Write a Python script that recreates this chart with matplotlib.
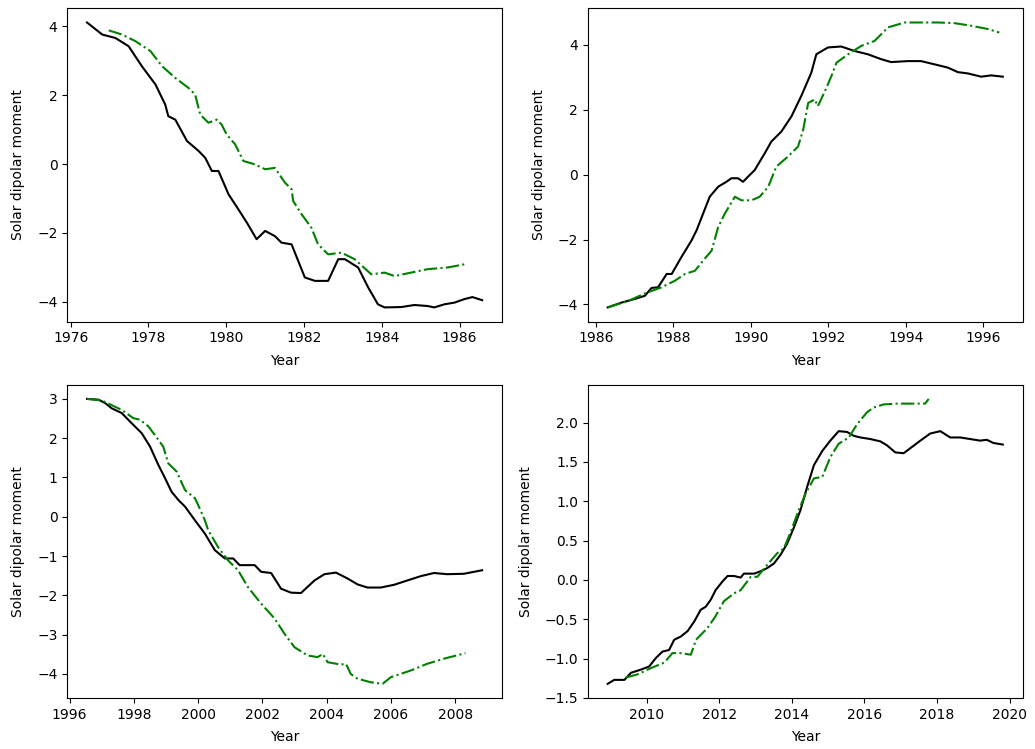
import numpy as np
import matplotlib
matplotlib.use("Agg")
import matplotlib.pyplot as plt

# cycle 21 (1976-1986)
yr_a_obs = [1976.42, 1976.81, 1977.15, 1977.49, 1977.83, 1978.18, 1978.43, 1978.51, 1978.69, 1978.99,
            1979.29, 1979.46, 1979.63, 1979.80, 1980.06, 1980.31, 1980.53, 1980.78, 1981.00, 1981.25,
            1981.42, 1981.68, 1982.02, 1982.28, 1982.62, 1982.88, 1983.05, 1983.39, 1983.65, 1983.90,
            1984.07, 1984.50, 1984.84, 1985.18, 1985.35, 1985.61, 1985.87, 1986.12, 1986.33, 1986.58]
dm_a_obs = [4.11, 3.76, 3.66, 3.42, 2.84, 2.31, 1.73, 1.39, 1.29, 0.67,
            0.38, 0.18, -0.20, -0.20, -0.88, -1.31, -1.70, -2.18, -1.94, -2.09,
            -2.28, -2.33, -3.29, -3.39, -3.39, -2.76, -2.76, -3.00, -3.58, -4.07,
            -4.16, -4.15, -4.09, -4.12, -4.16, -4.07, -4.02, -3.92, -3.86, -3.95]
yr_a_mod = [1976.98, 1977.32, 1977.66, 1978.05, 1978.35, 1978.69, 1979.03, 1979.20, 1979.33, 1979.54,
            1979.76, 1979.88, 1980.01, 1980.23, 1980.44, 1980.74, 1981.00, 1981.25, 1981.51, 1981.68,
            1981.72, 1981.94, 1982.19, 1982.36, 1982.62, 1982.96, 1983.30, 1983.73, 1984.07, 1984.33,
            1984.75, 1985.18, 1985.70, 1986.12]
dm_a_mod = [3.88, 3.76, 3.57, 3.28, 2.84, 2.50, 2.21, 2.02, 1.44, 1.20,
            1.29, 1.15, 0.86, 0.57, 0.09, -0.01, -0.15, -0.11, -0.54, -0.73,
            -1.07, -1.46, -1.85, -2.33, -2.62, -2.57, -2.76, -3.20, -3.15, -3.25,
            -3.15, -3.05, -3.00, -2.91]

# cycle 22 (1986-1996)
yr_b_obs = [1986.31, 1986.67, 1987.01, 1987.27, 1987.44, 1987.61, 1987.83, 1987.96, 1988.21, 1988.47,
            1988.60, 1988.77, 1988.94, 1989.16, 1989.37, 1989.50, 1989.67, 1989.80, 1989.93, 1990.10,
            1990.36, 1990.53, 1990.79, 1991.05, 1991.30, 1991.56, 1991.69, 1991.99, 1992.33, 1992.68,
            1993.02, 1993.36, 1993.62, 1994.05, 1994.39, 1994.74, 1995.08, 1995.34, 1995.60, 1995.94,
            1996.20, 1996.50]
dm_b_obs = [-4.09, -3.94, -3.83, -3.73, -3.49, -3.47, -3.06, -3.06, -2.54, -2.03,
            -1.72, -1.20, -0.68, -0.37, -0.22, -0.11, -0.11, -0.22, -0.06, 0.14,
            0.66, 1.02, 1.33, 1.80, 2.42, 3.14, 3.71, 3.92, 3.95, 3.81,
            3.71, 3.56, 3.47, 3.50, 3.50, 3.40, 3.30, 3.16, 3.12, 3.02,
            3.06, 3.02]
yr_b_mod = [1986.31, 1986.84, 1987.27, 1987.70, 1988.04, 1988.30, 1988.56, 1988.77, 1988.99, 1989.16,
            1989.33, 1989.59, 1989.76, 1990.02, 1990.23, 1990.45, 1990.66, 1990.96, 1991.22, 1991.35,
            1991.48, 1991.65, 1991.73, 1991.91, 1992.08, 1992.21, 1992.51, 1992.85, 1993.19, 1993.54,
            1993.97, 1994.39, 1994.82, 1995.25, 1995.68, 1996.11, 1996.41]
dm_b_mod = [-4.09, -3.89, -3.66, -3.47, -3.27, -3.06, -2.96, -2.65, -2.34, -1.61,
            -1.20, -0.68, -0.79, -0.79, -0.68, -0.37, 0.25, 0.56, 0.87, 1.38,
            2.21, 2.32, 2.11, 2.57, 3.04, 3.45, 3.71, 3.97, 4.12, 4.54,
            4.69, 4.69, 4.69, 4.67, 4.59, 4.49, 4.38]

# cycle 23 (1996-2008)
yr_c_obs = [1996.54, 1996.90, 1997.11, 1997.31, 1997.62, 1997.93, 1998.24, 1998.50, 1998.76, 1998.97,
            1999.17, 1999.38, 1999.59, 1999.90, 2000.21, 2000.52, 2000.83, 2001.09, 2001.29, 2001.55,
            2001.76, 2001.96, 2002.27, 2002.58, 2002.89, 2003.20, 2003.62, 2003.93, 2004.29, 2004.65,
            2004.96, 2005.27, 2005.68, 2006.10, 2006.51, 2006.93, 2007.34, 2007.75, 2008.27, 2008.84]
dm_c_obs = [3.00, 2.98, 2.89, 2.76, 2.64, 2.38, 2.13, 1.79, 1.32, 0.98,
            0.64, 0.43, 0.26, -0.09, -0.43, -0.85, -1.06, -1.06, -1.23, -1.23,
            -1.23, -1.40, -1.43, -1.83, -1.93, -1.94, -1.62, -1.46, -1.42, -1.57,
            -1.72, -1.80, -1.80, -1.73, -1.62, -1.51, -1.43, -1.46, -1.45, -1.36]
yr_c_mod = [1996.54, 1997.00, 1997.62, 1997.98, 1998.19, 1998.45, 1998.76, 1998.91, 1999.07, 1999.33,
            1999.59, 1999.90, 2000.00, 2000.21, 2000.31, 2000.62, 2000.93, 2001.24, 2001.55, 2001.96,
            2002.38, 2002.69, 2003.00, 2003.41, 2003.72, 2003.88, 2004.03, 2004.44, 2004.60, 2004.75,
            2004.96, 2005.37, 2005.74, 2006.00, 2006.62, 2007.13, 2007.65, 2008.32]
dm_c_mod = [3.00, 2.96, 2.72, 2.51, 2.47, 2.30, 1.96, 1.79, 1.36, 1.15,
            0.68, 0.47, 0.30, -0.09, -0.34, -0.77, -1.11, -1.36, -1.79, -2.21,
            -2.59, -2.98, -3.32, -3.53, -3.57, -3.49, -3.70, -3.76, -3.74, -4.00,
            -4.12, -4.21, -4.25, -4.08, -3.91, -3.74, -3.61, -3.47]

# cycle 24 (2008-2020)
yr_d_obs = [2008.93, 2009.11, 2009.39, 2009.57, 2009.84, 2010.07, 2010.26, 2010.44, 2010.62, 2010.76,
            2010.94, 2011.13, 2011.31, 2011.49, 2011.63, 2011.77, 2011.90, 2012.09, 2012.23, 2012.41,
            2012.59, 2012.68, 2012.96, 2013.14, 2013.32, 2013.51, 2013.69, 2013.87, 2014.06, 2014.24,
            2014.42, 2014.61, 2014.84, 2015.06, 2015.29, 2015.52, 2015.71, 2015.89, 2016.16, 2016.44,
            2016.62, 2016.85, 2017.08, 2017.31, 2017.54, 2017.81, 2018.09, 2018.36, 2018.64, 2018.91,
            2019.18, 2019.37, 2019.55, 2019.81]
dm_d_obs = [-1.32, -1.27, -1.27, -1.18, -1.14, -1.10, -0.99, -0.91, -0.89, -0.76,
            -0.72, -0.65, -0.53, -0.38, -0.34, -0.25, -0.13, -0.02, 0.05, 0.05,
            0.03, 0.08, 0.08, 0.11, 0.15, 0.21, 0.32, 0.46, 0.67, 0.89,
            1.18, 1.46, 1.64, 1.77, 1.89, 1.88, 1.83, 1.81, 1.79, 1.76,
            1.71, 1.62, 1.61, 1.69, 1.77, 1.86, 1.89, 1.81, 1.81, 1.79,
            1.77, 1.78, 1.74, 1.72]
yr_d_mod = [2009.43, 2009.75, 2010.12, 2010.49, 2010.71, 2010.94, 2011.22, 2011.36, 2011.68, 2011.90,
            2012.13, 2012.41, 2012.59, 2012.87, 2013.05, 2013.32, 2013.60, 2013.78, 2013.97, 2014.15,
            2014.38, 2014.61, 2014.84, 2015.06, 2015.29, 2015.57, 2015.80, 2016.07, 2016.25, 2016.53,
            2016.90, 2017.26, 2017.54, 2017.67, 2017.77]
dm_d_mod = [-1.24, -1.20, -1.12, -1.05, -0.93, -0.93, -0.95, -0.76, -0.61, -0.46,
            -0.27, -0.17, -0.13, 0.04, 0.04, 0.19, 0.34, 0.40, 0.61, 0.84,
            1.10, 1.29, 1.31, 1.56, 1.73, 1.81, 1.98, 2.13, 2.19, 2.23,
            2.24, 2.24, 2.24, 2.24, 2.30]

panels = [
    (yr_a_obs, dm_a_obs, yr_a_mod, dm_a_mod),
    (yr_b_obs, dm_b_obs, yr_b_mod, dm_b_mod),
    (yr_c_obs, dm_c_obs, yr_c_mod, dm_c_mod),
    (yr_d_obs, dm_d_obs, yr_d_mod, dm_d_mod),
]

fig, axs = plt.subplots(2, 2, figsize=(10.35, 7.49), dpi=100)
for ax, (x1, y1, x2, y2) in zip(axs.flat, panels):
    ax.plot(x1, y1, color='black', lw=1.5)
    ax.plot(x2, y2, color='green', ls='-.', lw=1.5)
    ax.set_xlabel("Year", labelpad=6)
    ax.set_ylabel("Solar dipolar moment", labelpad=8.5)

axs[1, 1].set_xticks([2010, 2012, 2014, 2016, 2018, 2020])
axs[1, 1].set_yticks(np.arange(-1.5, 2.01, 0.5))

plt.subplots_adjust(left=0.065, right=0.988, top=0.989, bottom=0.068, wspace=0.198, hspace=0.201)
plt.savefig("out.png", dpi=100)
